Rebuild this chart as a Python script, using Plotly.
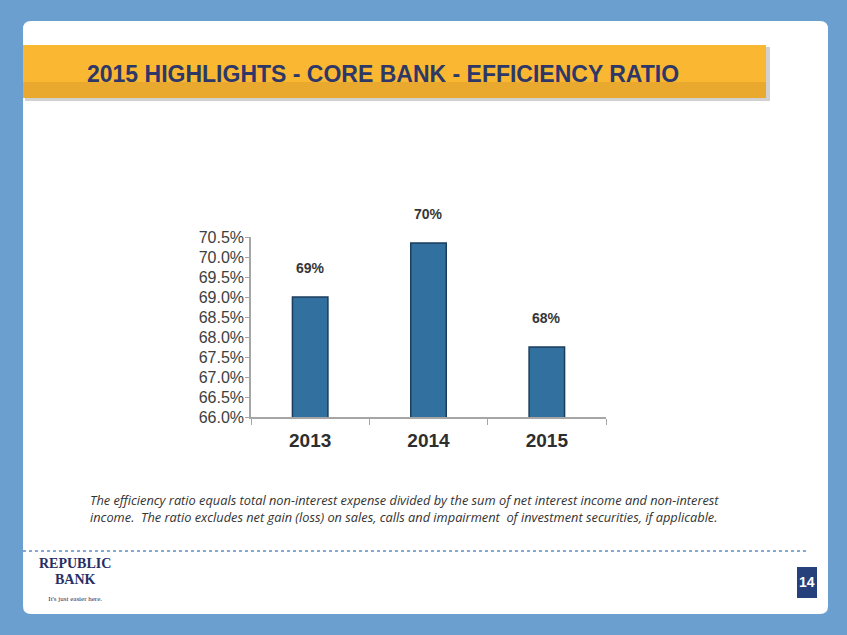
import plotly.graph_objects as go

years = ["2013", "2014", "2015"]
ratios = [69.0, 70.35, 67.75]
labels = ["69%", "70%", "68%"]
y_ticks = [66.0, 66.5, 67.0, 67.5, 68.0, 68.5, 69.0, 69.5, 70.0, 70.5]
y_tick_text = [f"{v:.1f}%" for v in y_ticks]

W, H = 847, 635
def px(x): return x / W
def py(y): return 1 - y / H

fig = go.Figure()
fig.add_trace(go.Bar(
    x=years, y=ratios, width=0.3,
    marker=dict(color="#31709f", line=dict(color="#1c3d5c", width=1.5)),
    hoverinfo="skip",
))

shapes = []
# white rounded panel
x0, x1, y0, y1, r = 23, 828, 21, 614, 8
path = (f"M {px(x0+r)},{py(y0)} L {px(x1-r)},{py(y0)} Q {px(x1)},{py(y0)} {px(x1)},{py(y0+r)} "
        f"L {px(x1)},{py(y1-r)} Q {px(x1)},{py(y1)} {px(x1-r)},{py(y1)} "
        f"L {px(x0+r)},{py(y1)} Q {px(x0)},{py(y1)} {px(x0)},{py(y1-r)} "
        f"L {px(x0)},{py(y0+r)} Q {px(x0)},{py(y0)} {px(x0+r)},{py(y0)} Z")
shapes.append(dict(type="path", xref="paper", yref="paper", path=path,
                   fillcolor="white", line=dict(width=0), layer="below"))
# banner shadow
shapes.append(dict(type="rect", xref="paper", yref="paper", x0=px(25), x1=px(770), y0=py(101), y1=py(47),
                   fillcolor="rgba(0,0,0,0.18)", line=dict(width=0), layer="below"))
# banner
shapes.append(dict(type="rect", xref="paper", yref="paper", x0=px(23), x1=px(766), y0=py(98), y1=py(45),
                   fillcolor="#fab731", line=dict(width=0), layer="below"))
shapes.append(dict(type="rect", xref="paper", yref="paper", x0=px(23), x1=px(766), y0=py(98), y1=py(82),
                   fillcolor="#e9a92f", line=dict(width=0), layer="below"))
# dotted separator
shapes.append(dict(type="line", xref="paper", yref="paper", x0=px(23), x1=px(806), y0=py(551), y1=py(551),
                   line=dict(color="#5a8fc4", width=1.5, dash="dot"), layer="below"))
# page number box
shapes.append(dict(type="rect", xref="paper", yref="paper", x0=px(797), x1=px(817), y0=py(598), y1=py(567),
                   fillcolor="#25407a", line=dict(width=0), layer="below"))

annotations = []
for i, (v, lab) in enumerate(zip(ratios, labels)):
    annotations.append(dict(x=i, y=v, xref="x", yref="y", text=f"<b>{lab}</b>", showarrow=False,
                            yshift=29, font=dict(family="Liberation Sans", size=14, color="#363636")))
annotations += [
    dict(x=px(85), y=py(74), xref="paper", yref="paper", xanchor="left", yanchor="middle",
         text="<b>2015 HIGHLIGHTS - CORE BANK - EFFICIENCY RATIO</b>", showarrow=False,
         font=dict(family="Liberation Sans", size=23, color="#2e3868")),
    dict(x=px(88), y=py(508), xref="paper", yref="paper", xanchor="left", yanchor="middle", align="left",
         text="<i>The efficiency ratio equals total non-interest expense divided by the sum of net interest income and non-interest<br>"
              "income.  The ratio excludes net gain (loss) on sales, calls and impairment  of investment securities, if applicable.</i>",
         showarrow=False, font=dict(family="Open Sans", size=12.8, color="#333333")),
    dict(x=px(807), y=py(582), xref="paper", yref="paper", xanchor="center", yanchor="middle",
         text="<b>14</b>", showarrow=False,
         font=dict(family="Liberation Sans", size=14, color="white")),
    dict(x=px(75), y=py(579), xref="paper", yref="paper", xanchor="center", yanchor="middle", align="center",
         text="<b><span style='font-size:14px'>REPUBLIC</span></b><br><b><span style='font-size:14px'>BANK</span></b>"
              "<br><span style='font-size:7px'>It's just easier here.</span>",
         showarrow=False,
         font=dict(family="Liberation Serif", size=12.5, color="#262e66")),
]

fig.update_layout(
    width=W, height=H, margin=dict(l=0, r=0, t=0, b=0, autoexpand=False),
    paper_bgcolor="#6a9fd0", plot_bgcolor="rgba(0,0,0,0)",
    showlegend=False, bargap=0.7,
    shapes=shapes, annotations=annotations,
    xaxis=dict(type="category", range=[-0.5, 2.5], domain=[px(251), px(606)], showline=True,
               linecolor="#a6a6a6", linewidth=1.5,
               ticks="outside", tickson="boundaries", ticklen=6, tickcolor="#a6a6a6", automargin=False,
               tickfont=dict(family="Liberation Sans", size=19, color="#2e2e2e"), tickangle=0,
               ticklabelstandoff=5,
               tickprefix="<b>", ticksuffix="</b>", showgrid=False),
    yaxis=dict(domain=[py(417), py(237)], range=[66.0, 70.5], tickvals=y_ticks, ticktext=y_tick_text,
               showline=True, linecolor="#a6a6a6", linewidth=1.5, ticks="outside", ticklen=4, automargin=False,
               tickcolor="#a6a6a6", showgrid=False, zeroline=False, ticklabelstandoff=-2,
               tickfont=dict(family="Liberation Sans", size=16, color="#404040")),
)

fig.write_html("out.html", config={"displayModeBar": False},
               post_script="document.body.style.margin='0';")
